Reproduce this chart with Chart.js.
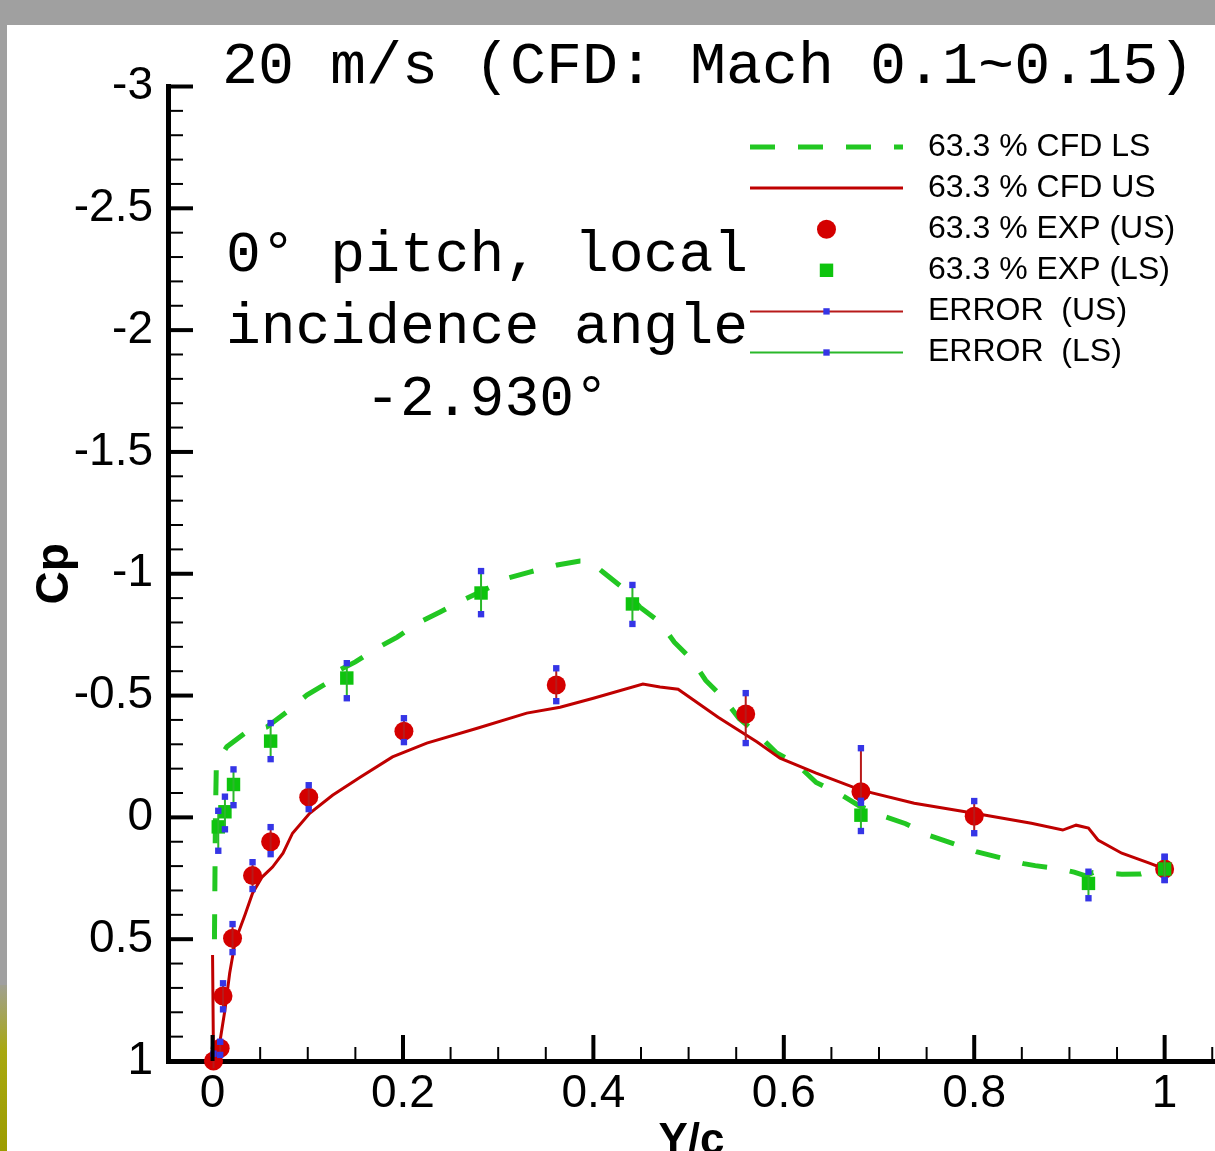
<!DOCTYPE html>
<html>
<head>
<meta charset="utf-8">
<script src="https://cdn.jsdelivr.net/npm/chart.js@4.4.1/dist/chart.umd.min.js"></script>
<style>
  html, body { margin: 0; padding: 0; }
  body { width: 1215px; height: 1151px; background: #a0a0a0; position: relative; overflow: hidden; }
  #edge { position: absolute; left: 0; top: 985px; width: 7px; height: 166px; background: linear-gradient(#a0a090, #a8a810 40%, #9c9c00); }
  #frame { position: absolute; left: 7px; top: 25px; width: 1208px; height: 1126px; background: #fff; }
  .mono { position: absolute; font-family: "Liberation Mono", "DejaVu Sans Mono", monospace; color: #000; white-space: pre; }
  #title { left: 222px; top: 37px; font-size: 60px; line-height: 60px; }
  #note { left: 187px; width: 600px; top: 220px; font-size: 58px; line-height: 72px; text-align: center; }
</style>
</head>
<body>
<div id="edge"></div>
<div id="frame"><canvas id="cp"></canvas></div>
<div class="mono" id="title">20 m/s (CFD: Mach 0.1~0.15)</div>
<div class="mono" id="note">0° pitch, local
incidence angle
-2.930°</div>
<script>
// CFD lower surface (dashed green)
const cfdLsX = [0.002, 0.003, 0.004, 0.015, 0.036, 0.057, 0.078, 0.099, 0.120, 0.127, 0.150,
  0.173, 0.194, 0.216, 0.239, 0.263, 0.281, 0.310, 0.333, 0.362, 0.386, 0.396, 0.410, 0.430,
  0.449, 0.470, 0.485, 0.504, 0.518, 0.537, 0.553, 0.574, 0.592, 0.613, 0.634, 0.658, 0.679,
  0.703, 0.728, 0.753, 0.778, 0.802, 0.827, 0.852, 0.864, 0.891, 0.905, 0.917, 0.925, 0.955,
  0.975, 0.987, 1.0];
const cfdLsY = [0.50, 0.0, -0.22, -0.29, -0.351, -0.371, -0.433, -0.502, -0.551, -0.593, -0.638,
  -0.695, -0.740, -0.798, -0.843, -0.892, -0.925, -0.982, -1.007, -1.036, -1.052, -1.052, -1.007, -0.945,
  -0.863, -0.801, -0.719, -0.645, -0.562, -0.488, -0.406, -0.336, -0.266, -0.221, -0.143, -0.098, -0.048,
  -0.007, 0.026, 0.075, 0.108, 0.141, 0.165, 0.190, 0.198, 0.212, 0.225, 0.240, 0.226, 0.233,
  0.232, 0.218, 0.212];

// CFD upper surface (solid red)
const cfdUsX = [0.0, 0.001, 0.008, 0.013, 0.018, 0.0235, 0.027, 0.034, 0.042, 0.052, 0.063, 0.074,
  0.084, 0.102, 0.126, 0.155, 0.189, 0.225, 0.278, 0.330, 0.365, 0.400, 0.452, 0.470, 0.489,
  0.531, 0.572, 0.596, 0.634, 0.681, 0.737, 0.800, 0.860, 0.893, 0.907, 0.920, 0.930, 0.955,
  0.984, 1.0];
const cfdUsY = [0.565, 1.0, 0.914, 0.791, 0.639, 0.516, 0.475, 0.401, 0.311, 0.245, 0.204, 0.147,
  0.065, -0.017, -0.091, -0.165, -0.248, -0.305, -0.366, -0.428, -0.452, -0.489, -0.547, -0.535, -0.526,
  -0.411, -0.309, -0.243, -0.182, -0.112, -0.058, -0.017, 0.024, 0.052, 0.032, 0.044, 0.093, 0.147,
  0.188, 0.212];

// experiment, upper surface
const expUsX = [0.001, 0.008, 0.011, 0.021, 0.042, 0.061, 0.101, 0.201, 0.361, 0.560, 0.681, 0.800, 1.0];
const expUsY = [1.0, 0.948, 0.733, 0.496, 0.239, 0.100, -0.083, -0.354, -0.543, -0.424, -0.105, -0.005, 0.212];
const errUsLo = [0.97, 0.921, 0.681, 0.438, 0.184, 0.040, -0.132, -0.407, -0.612, -0.510, -0.284, -0.067, 0.162];
const errUsHi = [1.03, 0.975, 0.788, 0.553, 0.294, 0.151, -0.034, -0.309, -0.477, -0.305, -0.068, 0.065, 0.257];

// experiment, lower surface
const expLsX = [0.006, 0.013, 0.022, 0.061, 0.141, 0.282, 0.441, 0.681, 0.920, 1.0];
const expLsY = [0.039, -0.023, -0.135, -0.313, -0.572, -0.921, -0.876, -0.009, 0.271, 0.212];
const errLsLo = [-0.027, -0.085, -0.197, -0.387, -0.633, -1.011, -0.954, -0.060, 0.223, 0.162];
const errLsHi = [0.137, 0.049, -0.050, -0.239, -0.489, -0.834, -0.794, 0.056, 0.332, 0.257];

const xMajor = [0, 0.2, 0.4, 0.6, 0.8, 1];
const xLabels = ['0', '0.2', '0.4', '0.6', '0.8', '1'];
const yMajor = [-3, -2.5, -2, -1.5, -1, -0.5, 0, 0.5, 1];
const yLabels = ['-3', '-2.5', '-2', '-1.5', '-1', '-0.5', '0', '0.5', '1'];
const seriesNames = ['63.3 % CFD LS', '63.3 % CFD US', '63.3 % EXP (US)', '63.3 % EXP (LS)', 'ERROR  (US)', 'ERROR  (LS)'];

const GREEN = '#22c722', RED = '#bf0000', DOT = '#d40000', SQ = '#0ec40e', BLUE = '#3535e6';
const SANS = '"Liberation Sans", Arial, sans-serif';

function pts(xs, ys) {
  return xs.map((x, i) => ({ x: x, y: ys[i] }));
}

// each error bar = lo, hi, then a gap
function bars(xs, lo, hi) {
  const out = [];
  xs.forEach((x, i) => out.push({ x: x, y: lo[i] }, { x: x, y: hi[i] }, { x: x, y: null }));
  return out;
}

function steps(min, max, step) {
  const t = [];
  for (let i = 0; min + i * step <= max + 1e-9; i++) t.push(Math.round((min + i * step) * 1000) / 1000);
  return t;
}

/* inward tick marks, Tecplot style */
const innerTicks = {
  id: 'innerTicks',
  afterDraw(chart) {
    const { ctx, chartArea: a, scales: { x, y } } = chart;
    const isMajor = (v, list) => list.some(m => Math.abs(m - v) < 1e-6);
    ctx.save();
    ctx.strokeStyle = '#000';
    steps(0, 1.05, 0.05).forEach(v => {
      const major = isMajor(v, xMajor);
      const px = x.getPixelForValue(v);
      ctx.lineWidth = major ? 4 : 2;
      ctx.beginPath();
      ctx.moveTo(px, a.bottom);
      ctx.lineTo(px, a.bottom - (major ? 26 : 14));
      ctx.stroke();
    });
    steps(-3, 1, 0.1).forEach(v => {
      const major = isMajor(v, yMajor);
      const py = y.getPixelForValue(v);
      ctx.lineWidth = major ? 4 : 2;
      ctx.beginPath();
      ctx.moveTo(a.left, py);
      ctx.lineTo(a.left + (major ? 25 : 15), py);
      ctx.stroke();
    });
    ctx.restore();
  }
};

/* legend inside the plot, top right */
const boxLegend = {
  id: 'boxLegend',
  afterDraw(chart) {
    const ctx = chart.ctx;
    const x0 = 743, x1 = 896, xm = 819.5, xt = 921, top = 122, gap = 41.1;
    ctx.save();
    chart.data.datasets.forEach((ds, i) => {
      const yy = top + i * gap;
      if (ds.showLine) {
        ctx.strokeStyle = ds.borderColor;
        ctx.lineWidth = ds.borderWidth;
        ctx.setLineDash(ds.borderDash || []);
        ctx.beginPath();
        ctx.moveTo(x0, yy);
        ctx.lineTo(x1, yy);
        ctx.stroke();
        ctx.setLineDash([]);
      }
      if (ds.pointRadius > 0) {
        const r = ds.pointRadius;
        ctx.fillStyle = ds.pointBackgroundColor;
        ctx.beginPath();
        if (ds.pointStyle === 'rect') {
          const s = r * Math.SQRT1_2;
          ctx.rect(xm - s, yy - s, 2 * s, 2 * s);
        } else {
          ctx.arc(xm, yy, r, 0, Math.PI * 2);
        }
        ctx.fill();
      }
      ctx.fillStyle = '#000';
      ctx.font = '32px ' + SANS;
      ctx.textBaseline = 'middle';
      ctx.textAlign = 'left';
      ctx.fillText(ds.label, xt, yy);
    });
    ctx.restore();
  }
};

new Chart(document.getElementById('cp'), {
  type: 'scatter',
  data: {
    datasets: [
      {
        label: seriesNames[0],
        data: pts(cfdLsX, cfdLsY),
        showLine: true,
        borderColor: GREEN,
        borderWidth: 5,
        borderDash: [25, 23],
        pointRadius: 0,
        order: 5
      },
      {
        label: seriesNames[1],
        data: pts(cfdUsX, cfdUsY),
        showLine: true,
        borderColor: RED,
        borderWidth: 3,
        pointRadius: 0,
        order: 4
      },
      {
        label: seriesNames[2],
        data: pts(expUsX, expUsY),
        showLine: false,
        pointStyle: 'circle',
        pointRadius: 9.5,
        pointBackgroundColor: DOT,
        pointBorderWidth: 0,
        clip: false,
        order: 3
      },
      {
        label: seriesNames[3],
        data: pts(expLsX, expLsY),
        showLine: false,
        pointStyle: 'rect',
        pointRadius: 9.5,
        pointBackgroundColor: SQ,
        pointBorderWidth: 0,
        clip: false,
        order: 2
      },
      {
        label: seriesNames[4],
        data: bars(expUsX, errUsLo, errUsHi),
        showLine: true,
        spanGaps: false,
        borderColor: '#b81a1a',
        borderWidth: 2,
        pointStyle: 'rect',
        pointRadius: 4.5,
        pointBackgroundColor: BLUE,
        pointBorderWidth: 0,
        clip: false,
        order: 1
      },
      {
        label: seriesNames[5],
        data: bars(expLsX, errLsLo, errLsHi),
        showLine: true,
        spanGaps: false,
        borderColor: '#2ab82a',
        borderWidth: 2,
        pointStyle: 'rect',
        pointRadius: 4.5,
        pointBackgroundColor: BLUE,
        pointBorderWidth: 0,
        clip: false,
        order: 0
      }
    ]
  },
  options: {
    responsive: true,
    maintainAspectRatio: false,
    animation: false,
    devicePixelRatio: 1,
    layout: { autoPadding: false, padding: { top: 61.5, right: 0, bottom: 0, left: 0 } },
    plugins: {
      legend: { display: false },
      tooltip: { enabled: false }
    },
    scales: {
      x: {
        type: 'linear',
        min: -0.0468,
        max: 1.0529,
        afterBuildTicks: s => { s.ticks = xMajor.map(v => ({ value: v })); },
        afterFit: s => { s.height = 90; s.paddingLeft = 0; s.paddingRight = 0; },
        grid: { display: false, drawTicks: false },
        border: { display: true, color: '#000', width: 5 },
        ticks: {
          autoSkip: false,
          maxRotation: 0,
          padding: 6,
          color: '#000',
          font: { family: SANS, size: 46 },
          callback: (v, i) => xLabels[i]
        },
        title: {
          display: true,
          text: 'Y/c',
          color: '#000',
          font: { family: SANS, size: 44, weight: 'bold', lineHeight: 0.4 },
          padding: 0
        }
      },
      y: {
        type: 'linear',
        min: -3,
        max: 1,
        reverse: true,
        afterBuildTicks: s => { s.ticks = yMajor.map(v => ({ value: v })); },
        afterFit: s => { s.width = 161; },
        grid: { display: false, drawTicks: false },
        border: { display: true, color: '#000', width: 5 },
        ticks: {
          autoSkip: false,
          padding: 15,
          color: '#000',
          font: { family: SANS, size: 46 },
          callback: (v, i) => yLabels[i]
        },
        title: {
          display: true,
          text: 'Cp',
          color: '#000',
          font: { family: SANS, size: 46, weight: 'bold' },
          padding: { top: 21, bottom: 0 }
        }
      }
    }
  },
  plugins: [innerTicks, boxLegend]
});
</script>
</body>
</html>
